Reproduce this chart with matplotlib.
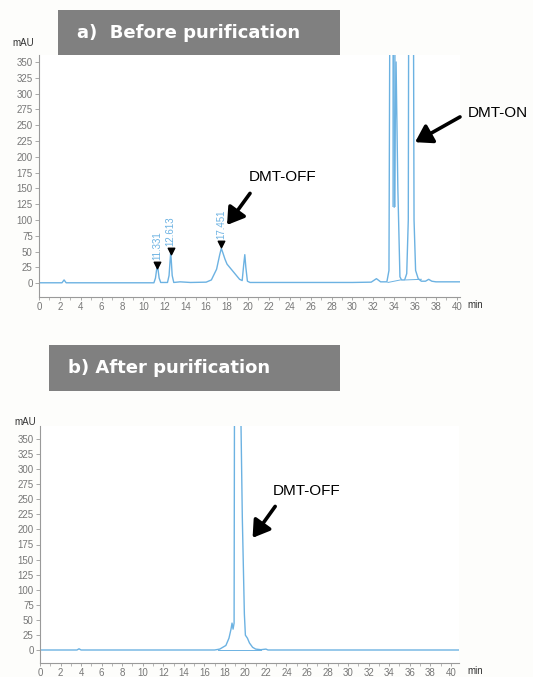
import matplotlib
matplotlib.use("Agg")
import matplotlib.pyplot as plt
from matplotlib.patches import Rectangle

# ---- Chromatogram traces (retention time in min, absorbance in mAU) ----
time_before = [0.0, 2.2, 2.4, 2.6, 11.0, 11.15, 11.33, 11.5, 11.65, 12.3, 12.45, 12.61,
               12.75, 12.9, 13.5, 14.5, 16.0, 16.5, 17.0, 17.3, 17.45, 17.6, 17.8, 18.0,
               18.3, 18.6, 18.9, 19.2, 19.45, 19.6, 19.7, 19.8, 19.95, 20.2, 30.0, 31.8,
               32.3, 32.7, 33.3, 33.5, 33.7, 33.85, 34.0, 34.18, 34.35, 34.55, 34.7, 35.0,
               35.2, 35.35, 35.45, 35.75, 35.9, 36.05, 36.3, 36.6, 37.0, 37.3, 37.6, 38.0,
               40.5]
mau_before = [0.5, 0.5, 5.0, 0.5, 0.5, 8.0, 30.0, 8.0, 1.0, 1.0, 12.0, 50.0,
              12.0, 1.0, 2.0, 1.0, 1.5, 5.0, 22.0, 45.0, 55.0, 48.0, 38.0, 30.0,
              24.0, 18.0, 12.0, 6.0, 4.0, 30.0, 45.0, 25.0, 3.0, 1.0, 1.0, 1.5,
              7.0, 2.0, 2.0, 20.0, 1000.0, 1000.0, 120.0, 350.0, 150.0, 10.0, 5.0, 5.0,
              15.0, 100.0, 1000.0, 1000.0, 100.0, 20.0, 7.0, 3.0, 3.0, 6.0, 3.0, 2.0,
              2.0]

time_after = [0.0, 3.6, 3.8, 4.0, 17.0, 17.5, 17.8, 18.1, 18.4, 18.6, 18.7, 18.8,
              18.9, 19.0, 19.5, 19.55, 19.7, 19.9, 20.0, 20.2, 20.4, 20.7, 21.0, 21.5,
              22.0, 22.2, 40.8]
mau_after = [0.5, 0.5, 2.5, 0.5, 0.5, 2.0, 5.0, 8.0, 20.0, 35.0, 45.0, 35.0,
             45.0, 1000.0, 1000.0, 400.0, 220.0, 60.0, 25.0, 20.0, 12.0, 5.0, 2.0, 1.0,
             2.0, 0.5, 0.5]

# integration baselines drawn under the large peaks
base_before_t = [[33.4, 34.6], [35.1, 36.6]]
base_before_y = [[1.0, 5.0], [5.0, 6.0]]
base_after_t = [17.3, 21.5]
base_after_y = [0.5, 0.5]

# unresolved region between the two overlapping peaks near 34 min
shade_t = [33.78, 34.18]
shade_floor = 120

# labelled peaks (retention time, apex marker height)
peak_rt = [11.331, 12.613, 17.451]
peak_h = [28, 51, 62]

# annotations: (text, arrow tip, arrow tail, text position)
notes_before = [("DMT-OFF", (18.0, 92), (20.2, 142), (23.3, 168)),
                ("DMT-ON", (36.0, 223), (40.3, 263), (41.05, 269))]
notes_after = [("DMT-OFF", (20.7, 186), (22.9, 238), (26.0, 264))]

y_ticks = list(range(0, 351, 25))
x_ticks = list(range(0, 41, 2))

trace_color = "#6cb2e2"
label_color = "#777777"
spine_color = "#9a9a9a"

W, H = 533, 677
fig = plt.figure(figsize=(W / 100, H / 100), dpi=100)
fig.patch.set_facecolor("#fdfdfb")


def fx(px):
    return px / W


def fy(py):
    return 1 - py / H


def style_axes(ax, xlim, ylim):
    ax.set_xlim(*xlim)
    ax.set_ylim(*ylim)
    ax.set_facecolor("white")
    for s in ("top", "right"):
        ax.spines[s].set_visible(False)
    for s in ("left", "bottom"):
        ax.spines[s].set_color(spine_color)
        ax.spines[s].set_linewidth(0.8)
    ax.set_yticks(y_ticks)
    ax.set_xticks(x_ticks)
    ax.set_xticks([t + 1 for t in x_ticks[:-1]], minor=True)
    ax.tick_params(axis="both", which="major", length=3, width=0.6, color=spine_color,
                   labelsize=7, labelcolor=label_color, pad=1.5)
    ax.tick_params(axis="x", which="major", length=2.5, pad=1.0)
    ax.tick_params(axis="x", which="minor", length=2, width=0.5, color=spine_color)
    for lab in ax.get_xticklabels() + ax.get_yticklabels():
        lab.set_fontfamily("Liberation Sans")


def title_box(x0, y0, x1, y1, text, tx):
    fig.patches.append(Rectangle((fx(x0), fy(y1)), fx(x1 - x0), (y1 - y0) / H,
                                 transform=fig.transFigure, facecolor="#808080",
                                 edgecolor="none"))
    fig.text(fx(tx), fy((y0 + y1) / 2), text, color="white", fontsize=13,
             fontweight="bold", family="DejaVu Sans", ha="left", va="center")


def annotate(ax, notes):
    for text, tip, tail, pos in notes:
        ax.annotate("", xy=tip, xytext=tail, annotation_clip=False,
                    arrowprops=dict(arrowstyle="-|>,head_length=0.55,head_width=0.35",
                                    lw=2.6, color="black", mutation_scale=18,
                                    shrinkA=0, shrinkB=0))
        ax.text(pos[0], pos[1], text, fontsize=11, family="Liberation Sans",
                ha="left" if pos[0] > 40 else "center", va="center", clip_on=False)


# ---- a) Before purification ----
ax1 = fig.add_axes([fx(39), fy(297), fx(421), 242 / H])
style_axes(ax1, (0, 40.3), (-22, 361))
ax1.fill_between(shade_t, shade_floor, 400, color=trace_color, alpha=0.6, lw=0)
ax1.plot(time_before, mau_before, color=trace_color, lw=1.0)
for bt, by in zip(base_before_t, base_before_y):
    ax1.plot(bt, by, color=trace_color, lw=0.7)
ax1.scatter(peak_rt, peak_h, marker="v", s=22, color="black", zorder=3)
for rt, h in zip(peak_rt, peak_h):
    ax1.text(rt, h + 8, f"{rt:.3f}", rotation=90, fontsize=7, color=trace_color,
             family="Liberation Sans", ha="center", va="bottom")
annotate(ax1, notes_before)
fig.text(fx(12), fy(43), "mAU", fontsize=7, family="Liberation Sans", color="#333333",
         va="center")
fig.text(fx(467), fy(305), "min", fontsize=7, family="Liberation Sans", color="#333333",
         va="center")
title_box(58, 10, 340, 55, "a)  Before purification", 77)

# ---- b) After purification ----
ax2 = fig.add_axes([fx(40), fy(663), fx(419), 237 / H])
style_axes(ax2, (0, 40.8), (-21, 371))
ax2.plot(time_after, mau_after, color=trace_color, lw=1.0)
ax2.plot(base_after_t, base_after_y, color=trace_color, lw=0.7)
annotate(ax2, notes_after)
fig.text(fx(14), fy(422), "mAU", fontsize=7, family="Liberation Sans", color="#333333",
         va="center")
fig.text(fx(467), fy(671), "min", fontsize=7, family="Liberation Sans", color="#333333",
         va="center")
title_box(49, 345, 340, 391, "b) After purification", 68)

fig.savefig("out.png", dpi=100, facecolor=fig.get_facecolor())
